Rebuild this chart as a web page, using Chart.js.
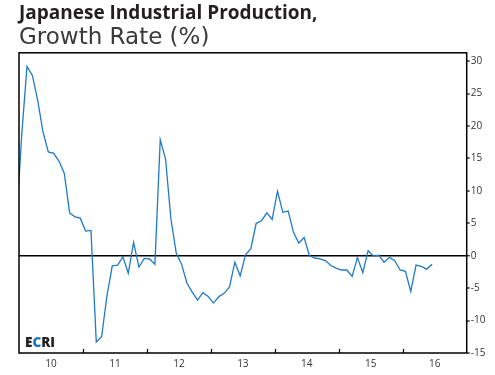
<!DOCTYPE html>
<html>
<head>
<meta charset="utf-8">
<script src="https://cdn.jsdelivr.net/npm/chart.js@4/dist/chart.umd.min.js"></script>
<style>
  html, body { margin: 0; padding: 0; background: #fff; }
  #wrap { width: 495px; height: 375px; position: relative; }
</style>
</head>
<body>
<div id="wrap"><canvas id="c" width="495" height="375"></canvas></div>
<script>
// Year-over-year growth (%) of Japanese industrial production, monthly
const growth2009 = [5.0];                                                              // Dec
const growth2010 = [18.5, 29.2, 27.8, 24.0, 19.1, 16.0, 15.8, 14.6, 12.7, 6.6, 6.0, 5.8];
const growth2011 = [3.8, 3.9, -13.3, -12.5, -6.2, -1.55, -1.44, -0.15, -2.7, 2.07, -1.75, -0.4];
const growth2012 = [-0.5, -1.3, 17.9, 14.9, 5.7, 0.4, -1.3, -4.2, -5.6, -6.85, -5.7, -6.3];
const growth2013 = [-7.3, -6.3, -5.8, -4.8, -1.0, -3.1, 0.15, 1.1, 5.0, 5.4, 6.6, 5.6];
const growth2014 = [9.95, 6.7, 6.9, 3.6, 1.96, 2.8, 0.0, -0.35, -0.5, -0.75, -1.5, -1.9];
const growth2015 = [-2.2, -2.2, -3.2, -0.25, -2.6, 0.77, -0.05, 0.1, -1.0, -0.25, -0.77, -2.2];
const growth2016 = [-2.4, -5.5, -1.44, -1.64, -2.06, -1.3];                              // Jan-Jun

const yearLabels = ['10', '11', '12', '13', '14', '15', '16'];
const yTicks = [-15, -10, -5, 0, 5, 10, 15, 20, 25, 30];
const titleText = 'Japanese Industrial Production,';
const subtitleText = 'Growth Rate (%)';

// months counted from Jan 2010 (0); Dec 2009 is -1; points at mid-month
const allValues = [].concat(growth2009, growth2010, growth2011, growth2012, growth2013, growth2014, growth2015, growth2016);
const points = allValues.map((v, i) => ({ x: i - 1 + 0.5, y: v }));

const frame = {
  id: 'frame',
  afterDraw(chart) {
    const { ctx, chartArea: a, scales } = chart;
    ctx.save();
    ctx.strokeStyle = '#000';
    ctx.lineWidth = 1.5;
    ctx.strokeRect(a.left, a.top, a.right - a.left, a.bottom - a.top);
    // inward year-boundary tick marks on the bottom axis
    ctx.lineWidth = 1.2;
    for (let k = 1; k < yearLabels.length; k++) {
      const px = Math.round(scales.x.getPixelForValue(k * 12)) + 0.5;
      ctx.beginPath();
      ctx.moveTo(px, a.bottom);
      ctx.lineTo(px, a.bottom - 4);
      ctx.stroke();
    }
    // ECRI mark
    ctx.font = '800 13.5px "Open Sans"';
    ctx.textBaseline = 'alphabetic';
    let x = a.left + 6;
    const y = a.bottom - 6;
    const parts = [['E', '#231f20'], ['C', '#1b75bb'], ['RI', '#231f20']];
    for (const [t, col] of parts) {
      ctx.fillStyle = col;
      ctx.fillText(t, x, y);
      x += ctx.measureText(t).width;
    }
    ctx.restore();
  }
};

new Chart(document.getElementById('c'), {
  type: 'line',
  data: {
    datasets: [{
      data: points,
      borderColor: '#1f7bc8',
      borderWidth: 1.3,
      pointRadius: 0,
      tension: 0,
      fill: false,
      clip: 0
    }]
  },
  options: {
    responsive: false,
    animation: false,
    devicePixelRatio: 1,
    layout: { padding: { left: 19, right: 0, top: 0, bottom: 0 } },
    plugins: {
      legend: { display: false },
      tooltip: { enabled: false },
      title: {
        display: true,
        text: titleText,
        align: 'start',
        color: '#231f20',
        font: { family: 'Open Sans', size: 19, weight: 'bold', lineHeight: 1.25 },
        padding: { top: 2, bottom: 0 }
      },
      subtitle: {
        display: true,
        text: subtitleText,
        align: 'start',
        color: '#3a3a3a',
        font: { family: 'DejaVu Sans', size: 23, weight: 'normal', lineHeight: 1.08 },
        padding: { top: 0, bottom: 2.2 }
      }
    },
    scales: {
      x: {
        type: 'linear',
        min: 0,
        max: yearLabels.length * 12,
        grid: { display: false, drawTicks: false },
        border: { display: false },
        afterBuildTicks(scale) {
          scale.ticks = yearLabels.map((_, k) => ({ value: k * 12 + 6 }));
        },
        afterFit(scale) { scale.height = 22; },
        ticks: {
          autoSkip: false,
          maxRotation: 0,
          padding: 5,
          color: '#333',
          font: { family: 'Open Sans', size: 10 },
          callback: (v) => yearLabels[Math.round((v - 6) / 12)]
        }
      },
      y: {
        position: 'right',
        min: -15,
        max: 31.3,
        afterBuildTicks(scale) {
          scale.ticks = yTicks.map(v => ({ value: v }));
        },
        afterFit(scale) { scale.width = 28.3; },
        border: { display: false },
        grid: {
          drawOnChartArea: true,
          color: (c) => (c.tick && c.tick.value === 0 ? '#000' : 'rgba(0,0,0,0)'),
          lineWidth: (c) => (c.tick && c.tick.value === 0 ? 1.5 : 0),
          drawTicks: true,
          tickLength: 3,
          tickColor: '#000',
          tickWidth: 1.2
        },
        ticks: {
          padding: 1,
          color: '#333',
          font: { family: 'Open Sans', size: 10 },
          callback: (v) => String(v)
        }
      }
    }
  },
  plugins: [frame]
});
</script>
</body>
</html>
